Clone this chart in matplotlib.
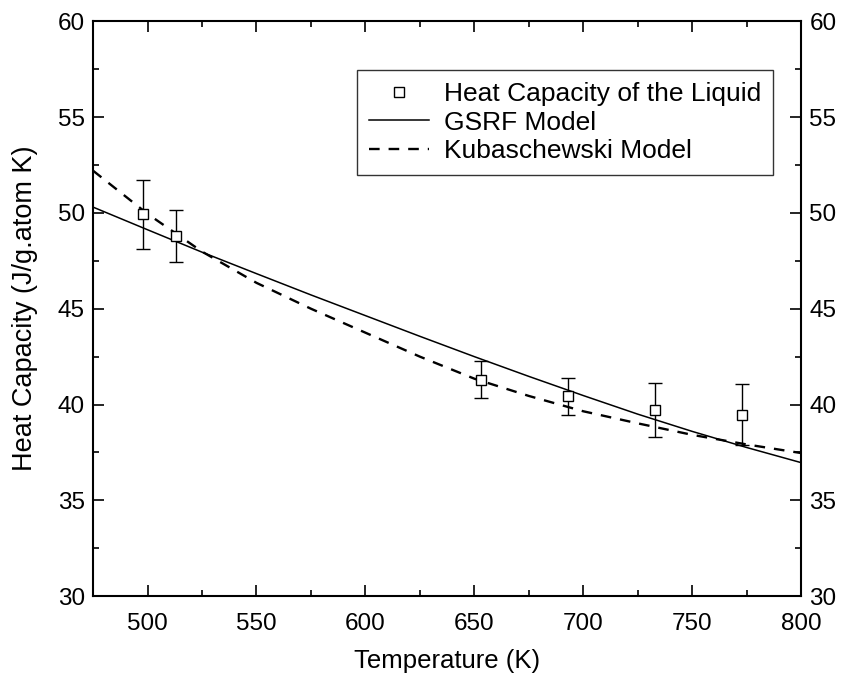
import matplotlib
matplotlib.use("Agg")
import matplotlib.pyplot as plt
from matplotlib.ticker import MultipleLocator

plt.rcParams['font.family'] = ['Liberation Sans', 'DejaVu Sans']

# Measured data
temp_exp = [498, 513, 653, 693, 733, 773]
cp_exp = [49.93, 48.78, 41.30, 40.43, 39.70, 39.48]
cp_err = [1.8, 1.36, 0.97, 0.97, 1.4, 1.6]

# Model curves
temp_model = [475, 500, 525, 550, 575, 600, 625, 650, 675, 700, 725, 750, 775, 800]
cp_gsrf = [50.3, 49.12, 47.95, 46.83, 45.72, 44.64, 43.56, 42.5, 41.47, 40.47, 39.5, 38.6, 37.76, 36.97]
cp_kub = [52.2, 49.95, 47.98, 46.35, 45.0, 43.75, 42.5, 41.35, 40.45, 39.65, 39.02, 38.42, 37.92, 37.47]

fig = plt.figure(figsize=(8.46, 6.83), dpi=100)
ax = fig.add_axes([0.110, 0.127, 0.837, 0.842])

ax.errorbar(temp_exp, cp_exp, yerr=cp_err, fmt='none', ecolor='black',
            elinewidth=1.0, capsize=5, capthick=1.0, zorder=3)
ax.plot(temp_model, cp_gsrf, '-', color='black', lw=1.1, label='GSRF Model', zorder=2)
ax.plot(temp_model, cp_kub, '--', color='black', lw=1.7, dashes=(4.5, 3.8),
        label='Kubaschewski Model', zorder=2)
ax.plot(temp_exp, cp_exp, 's', mfc='white', mec='black', mew=1.0, ms=7.5,
        ls='none', label='Heat Capacity of the Liquid', zorder=4)

ax.set_xlim(475, 800)
ax.set_ylim(30, 60)
ax.xaxis.set_major_locator(MultipleLocator(50))
ax.xaxis.set_minor_locator(MultipleLocator(25))
ax.yaxis.set_major_locator(MultipleLocator(5))
ax.yaxis.set_minor_locator(MultipleLocator(2.5))
ax.tick_params(which='both', direction='in', top=True, right=True,
               labelright=True, labelsize=17.5, width=1.2)
ax.tick_params(which='major', length=8)
ax.tick_params(which='minor', length=4.5)
ax.tick_params(axis='x', which='major', pad=12)
ax.tick_params(axis='y', which='major', pad=6)
for s in ax.spines.values():
    s.set_linewidth(1.5)

ax.set_xlabel('Temperature (K)', fontsize=18.5, labelpad=10)
ax.set_ylabel('Heat Capacity (J/g.atom K)', fontsize=19.5, labelpad=14)

handles, labels = ax.get_legend_handles_labels()
order = [2, 0, 1]
leg = ax.legend([handles[i] for i in order], [labels[i] for i in order],
                loc='upper right', bbox_to_anchor=(0.960, 0.915), borderaxespad=0,
                fontsize=19, frameon=True, fancybox=False, edgecolor='black',
                handlelength=2.3, handletextpad=0.55, labelspacing=0.18,
                borderpad=0.45, numpoints=1, markerscale=1.0)
leg.get_frame().set_linewidth(1.0)

fig.savefig('out.png', dpi=100)
